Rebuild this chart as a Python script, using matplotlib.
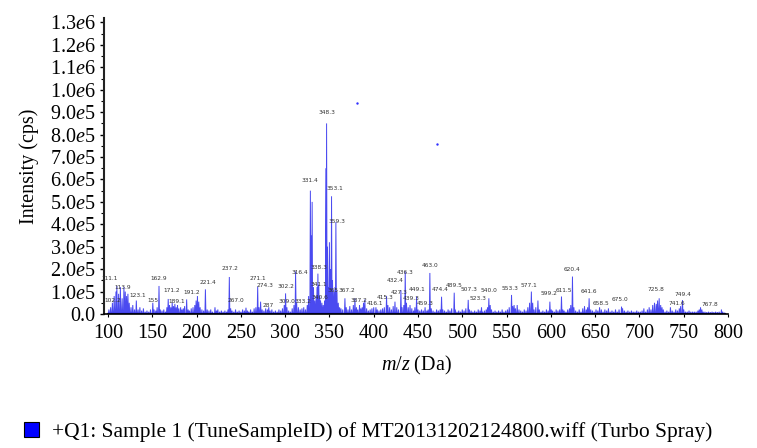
import matplotlib
matplotlib.use("Agg")
import matplotlib.pyplot as plt
from matplotlib.patches import Patch
import numpy as np

plt.rcParams['font.family'] = ['Liberation Serif', 'DejaVu Serif']
plt.rcParams['mathtext.fontset'] = 'custom'
plt.rcParams['mathtext.rm'] = 'Liberation Serif'
plt.rcParams['mathtext.it'] = 'Liberation Serif:italic'

# ---------------- data ----------------
# peak centres (m/z) and intensities (units of 1e4 cps)
peak_mz = [101,103,105,107,109,110,112,114,116,118,119.5,121,122.5,124,126,128,130,132,134,136,138,140,142,144,146,148,150.6,152,154,155.5,157.6,159,
           161,163,165,166.5,168,169.5,171,172.5,174,175.5,177,178.5,180,182,183.5,185,186.5,188.8,190.5,192,194,196,198,199.5,201,202.5,204,206,208,210,212,214,216,218,220.8,222.5,224,226,228,230,
           232,234,235.5,237,238.5,240,242,244,246,248,250,252,254,255.8,257.5,259,261,263,265,267,269,270.5,272.3,274,276,278,280,281.5,283,285,287,289,291,293,295,297,299,300.5,302,304,306,308,
           310,311.8,313,315,317,319,321,323,325,326.5,328.5,329.5,330.5,332,333.5,335,336,337,338,339,340,341.5,343,344.5,346,346.8,347.8,349,350,351.3,352.4,353.5,355,356.3,357.3,358.5,360,361.5,363,365,367.5,369,371,373,375,377,378.8,380.5,382,384,385.5,387,388.5,390,392,394,396,398,400,402.5,404,406,408,410,412,
           414.5,416,418,420,422,424,426,428,430.7,432,434,435.6,437,439,441,443,445,446.5,448.4,450,452,454,456,458,460,461.5,463.4,465,467,469,471,473,475,476.6,478,480,482,484,486,488,490.9,492,494,496,498,500,502,504,506.7,508,
           510,512,514,516,518,520,521.7,523,525,527,528.5,530,531.5,533,535,537,539,541,543,545,547,549,551,553,555.6,557,558.5,560,562,564,566,568,570,572,574,576,578,579.5,581,583,585.4,587,589,591,593,595,597,598.9,600.5,
           602,604,606,608,610,612,613.5,615,617,619,621,622.5,624.4,626,628,630,632,634,636,638,640,641.5,643.2,645,647,649,651,653,655,657,659,661,663,665,667,669,671,673,675,677,679.8,681,683,685,687,689,691,693,695,697,699,
           701,703,705,707,709,711,713,715,717,719,720.5,722.3,724,725.5,727,729,731,733,735,737,739,741,743,745,746.5,748.6,750,752,754,756,758,760,762,764,766,767.5,769,770.5,772,774,776,778,780,782,784,786,788,790,792.6,794,796]
peak_int = [2,3,5,8,10,12.5,9,12,7,12,10,8,9,5,3,4,2,6,2,3,1.5,2.5,1,1.5,1,2,5,2,1.5,3,12.5,2,
            1.5,2,1,3,6.7,4,3,5,3.5,4.5,3,4,2.5,3,2,2.5,3.5,6.5,2,1.5,2.5,3,4,6,8,5.5,3,2,1.5,11,2,1.5,2,1,3,1.5,2,1,1.5,1,
            1.5,1,2,16.5,2.5,1.5,1,2,1,1.5,1,2,1.5,2.8,1.5,1,2,1,2.5,3,12.2,3,5.5,2,1.5,2.5,2,3,1.5,2,1,1.5,1,2,1.5,2.5,4,9.2,3,1.5,1,2.5,
            4,19,5,3,2,2.5,3,2,4,8,55,35,50,12,6,8,12,18,13,8,6,5,4,6,65,85,30,12,32,20,52.5,15,10,12,41,10,5,3,2.5,2,7,3,2,3.5,2,4,7,3,2,4,2.5,3,5,6.5,2.5,1.5,2,2.5,3,3,2,1.5,2,2.5,3,
            8,4,3,2,3.5,5.5,3,2,10.7,3,4,19,5,3,4,2.5,1.5,3,7.8,2,1.5,2,1.5,3,1.5,2,18.3,2.5,1.5,1,2,1.5,2,7.7,2,1.5,1,2,1.5,2.5,9.5,2,1,1.5,1,2,1.5,2.5,6.3,2,
            1.5,1,1.5,1,2,1.5,3,1,1.5,2,3,7,4,2,1,1.5,1,1.5,1,2,1,1.5,2,3,8.5,3.5,4,2.5,4,2,1.5,1,2,1.5,3,5,10,5,2,3,6,2,1,1.5,1,2,1.5,5.5,2,
            1.5,1,2,1.5,2,7.8,2,1.5,1,2,2.5,4,16.7,3,1.5,1,2,1,2.5,3.5,2,3,7,2,1.5,1,2,1.5,3,2,1,2,1.5,2.5,1,1.5,1,2,1,2,3.3,2.5,1.5,1,1.5,1,1.5,1,1,1.5,1,
            1,1.5,2.5,1,2,3,2,4,5,4.5,6,7,4,3,2,1,1.5,1,3,1.5,1,2,1.5,2.5,3.5,6.2,2,1,1,1.5,1,1,1,1,1.5,2,3,2,1,1,0.8,1,0.8,1,0.8,1,0.8,1,2,1,0.5]

# peak annotations: text, label position (m/z, intensity in 1e4)
label_text = ["111.1","113.9","102.2","123.1","155","162.9","171.2","189.1","191.2","221.4","237.2","267.0","271.1","274.3","287",
              "309.0","302.2","316.4","333.2","331.4","338.3","341.1","340.6","348.3","353.1","359.3","365","367.2","387.2","416.1",
              "415.3","432.4","427.3","436.3","439.3","449.1","459.3","463.0","474.4","489.5","507.3","523.3","540.0","553.3","577.1",
              "599.2","611.5","620.4","641.6","658.5","675.0","725.8","741.6","749.4","767.8"]
label_mz = [102,117,105.6,133.5,150.4,157.6,171.9,177.5,194.4,213.2,237.7,245,269,277,280.6,
            301.7,300.5,316.7,320.5,328,338.5,338.5,339,346.8,356,358,353.6,369.4,383.7,401,
            413,424,429,435,442,448.4,457.8,463.4,474.7,490.5,507.5,518,530,553.7,575.5,
            598,615,624,643,656.4,677.9,719,741.8,748.6,780]
label_int = [14.5,10.7,4.9,7,5,14.5,9.3,4.5,8.5,13,19,4.8,14.5,11.5,2.7,
             4.5,11,17.5,4.5,58.5,19.7,12.2,6.3,88.7,54.8,40,9.3,9.5,5,3.5,
             6.3,14,8.6,17.5,5.8,10,3.7,20.5,9.7,11.5,10,5.8,9.5,10.4,11.5,
             8.2,9.3,18.7,9,3.7,5.2,9.7,3.6,7.8,3.3]

# stray single points
dot_mz = [381, 471]
dot_int = [94, 75.7]

x_ticks = [100,150,200,250,300,350,400,450,500,550,600,650,700,750,800]
y_ticks = [0,1e5,2e5,3e5,4e5,5e5,6e5,7e5,8e5,9e5,1e6,1.1e6,1.2e6,1.3e6]
y_tick_labels = ["0.0"] + [f"{v:.1f}$e$5" for v in range(1, 10)] + ["1.0$e$6","1.1$e$6","1.2$e$6","1.3$e$6"]

legend_label = "+Q1: Sample 1 (TuneSampleID) of MT20131202124800.wiff (Turbo Spray)"

# ---------------- figure ----------------
fig = plt.figure(figsize=(7.57, 4.48), dpi=100)
ax = fig.add_axes([104/757, 1-314/448, (728-104)/757, (314-18)/448])

scale = 1e4
hw = 0.55
xs, ys = [], []
for m, h in zip(peak_mz, peak_int):
    xs += [m-hw, m, m+hw]
    ys += [0.0, h*scale, 0.0]
ax.plot(xs, ys, color='#4a4af0', lw=0.7, solid_joinstyle='miter')
ax.plot([min(peak_mz)-hw, max(peak_mz)+hw], [0, 0], color='#0000a0', lw=1.6)

for t, m, h in zip(label_text, label_mz, label_int):
    ax.text(m, h*scale, t, fontsize=4.2, family='DejaVu Sans', color='#333333',
            ha='center', va='bottom')

ax.scatter(dot_mz, [d*scale for d in dot_int], s=3, color='#3030ff', lw=0)

ax.set_xlim(95.5, 800)
ax.set_ylim(0, 1.32e6)
ax.set_xticks(x_ticks)
ax.set_yticks(y_ticks)
ax.set_yticklabels(y_tick_labels)
ax.set_yticks(np.arange(0.5e5, 1.3e6, 1e5), minor=True)
for s in ['top', 'right']:
    ax.spines[s].set_visible(False)
ax.spines['left'].set_linewidth(1.5)
ax.spines['bottom'].set_linewidth(1.2)
ax.spines['left'].set_color('#222222')
ax.tick_params(axis='y', which='major', length=3, width=1, labelsize=14.5, pad=3)
ax.tick_params(axis='y', which='minor', length=2, width=0.8)
ax.tick_params(axis='x', which='major', length=2, width=0.8, labelsize=14.5, pad=5)

ax.set_ylabel("Intensity (cps)", fontsize=14.5, labelpad=8)
ax.set_xlabel(r"$m/z$ (Da)", fontsize=14.5, labelpad=8)

fig.legend(handles=[Patch(facecolor='#0000ff', edgecolor='black', lw=0.8)], labels=[legend_label],
           loc='center left', bbox_to_anchor=(5/757, 1-432/448), frameon=False,
           fontsize=15.5, handlelength=0.7, handleheight=0.7, handletextpad=0.6)

fig.savefig("out.png", dpi=100)
